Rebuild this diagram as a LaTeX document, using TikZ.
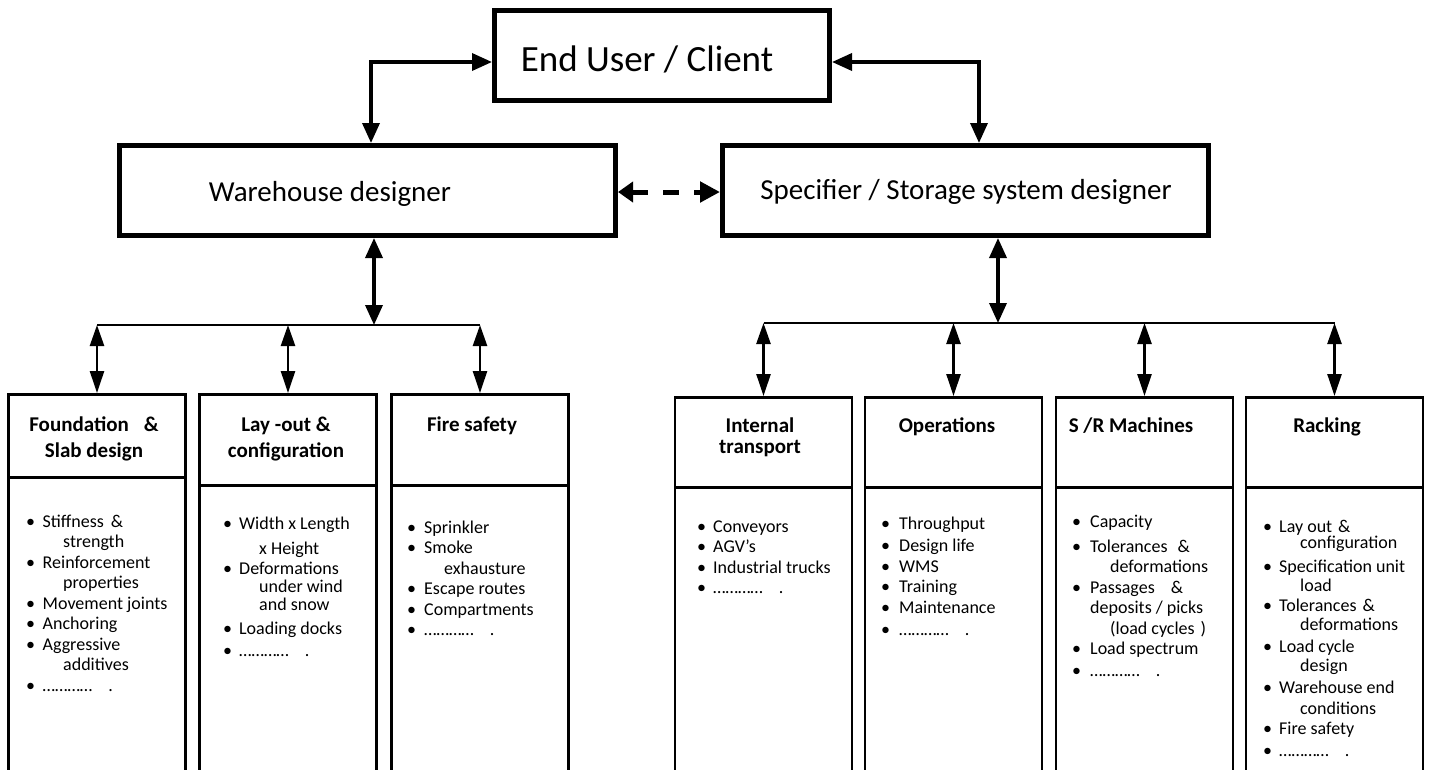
\documentclass[tikz,border=0pt]{standalone}
\usepackage{fontspec}
\setmainfont{Carlito}
\usetikzlibrary{arrows.meta}
\begin{document}
\begin{tikzpicture}[x=1pt,y=-1pt,
 topbox/.style={draw, line width=5pt, inner sep=0pt},
 colhdr/.style={draw, line width=2.5pt, inner sep=0pt, minimum width=177pt},
 colbody/.style={inner sep=0pt, outer sep=0pt, minimum width=177pt},
 colside/.style={line width=2.5pt},
 link/.style={line width=3.5pt, {Triangle[length=20pt,width=17pt]}-{Triangle[length=20pt,width=17pt]}},
 sublink/.style={line width=2.5pt, {Triangle[length=21pt,width=14pt]}-{Triangle[length=22pt,width=14pt]}},
 dlink/.style={line width=5pt, dash pattern=on 16pt off 15pt, {Triangle[length=15pt,width=20pt]}-{Triangle[length=20pt,width=20pt]}},
 busline/.style={line width=2pt},
 bigtxt/.style={font=\fontsize{29}{34}\selectfont, inner sep=0pt, anchor=base},
 ttl/.style={font=\fontsize{21}{26}\selectfont\bfseries, inner sep=0pt, anchor=base},
 ttlr/.style={font=\fontsize{21}{21}\selectfont\bfseries, inner sep=0pt, anchor=base},
 lst/.style={font=\fontsize{18}{20.5}\selectfont, inner sep=0pt, anchor=base west}]
\useasboundingbox (0,0) rectangle (1429,769);
\fill[white] (0,0) rectangle (1429,769);

% top level boxes
\node[topbox, minimum width=335pt, minimum height=90pt] (eu) at (662,55.5) {};
\node[bigtxt, font=\fontsize{37}{44}\selectfont] (eut) at (647,71) {End User / Client};
\node[topbox, minimum width=496pt, minimum height=90pt] (wd) at (367.5,190.5) {};
\node[bigtxt] (wdt) at (330,201) {Warehouse designer};
\node[topbox, minimum width=486pt, minimum height=90pt] (sp) at (965.5,190.5) {};
\node[bigtxt] (spt) at (966,199) {Specifier / Storage system designer};

\draw[link] ([xshift=3.5pt]wd.north) |- ([yshift=-6.5pt]eu.west);
\draw[link] ([yshift=-6.5pt]eu.east) -| ([xshift=13.5pt]sp.north);
\draw[dlink] ([yshift=-1.5pt]wd.east) -- ([yshift=-1.5pt]sp.west);

\coordinate (lbus) at (374,325);
\coordinate (rbus) at (998,323);
\draw[link] ([xshift=6.5pt]wd.south) -- (lbus);
\draw[link] ([xshift=32.5pt]sp.south) -- (rbus);

% column headers
\node[colhdr, minimum height=83pt, anchor=north] (h1) at (97,393) {};
\node[colhdr, minimum height=91pt, anchor=north] (h2) at (288,393) {};
\node[colhdr, minimum height=91pt, anchor=north] (h3) at (480,393) {};
\node[colhdr, minimum height=90pt, anchor=north] (h4) at (763.5,396) {};
\node[colhdr, minimum height=90pt, anchor=north] (h5) at (953.5,396) {};
\node[colhdr, minimum height=90pt, anchor=north] (h6) at (1144.5,396) {};
\node[colhdr, minimum height=90pt, anchor=north] (h7) at (1334.5,396) {};

% column bodies (open at the bottom)
\node[colbody, anchor=north, minimum height=291pt] (b1) at (h1.south) {};
\node[colbody, anchor=north, minimum height=283pt] (b2) at (h2.south) {};
\node[colbody, anchor=north, minimum height=283pt] (b3) at (h3.south) {};
\node[colbody, anchor=north, minimum height=281pt] (b4) at (h4.south) {};
\node[colbody, anchor=north, minimum height=281pt] (b5) at (h5.south) {};
\node[colbody, anchor=north, minimum height=281pt] (b6) at (h6.south) {};
\node[colbody, anchor=north, minimum height=281pt] (b7) at (h7.south) {};
\foreach \b in {b1,b2,b3,b4,b5,b6,b7}
  \draw[colside] (\b.north west) -- (\b.south west) (\b.north east) -- (\b.south east);

% buses and sub links
\draw[busline] (h1.north |- lbus) -- (h3.north |- lbus);
\draw[busline] (h4.north |- rbus) -- (h7.north |- rbus);
\foreach \h in {h1,h2,h3} \draw[sublink] (\h.north |- lbus) -- (\h.north);
\foreach \h in {h4,h5,h6,h7} \draw[sublink] (\h.north |- rbus) -- (\h.north);

% titles
\node[ttl] (t1) at (94,431) {\begin{tabular}[t]{@{}c@{}}Foundation\hspace{15pt}\&\\Slab design\end{tabular}};
\node[ttl] (t2) at (286,431) {\begin{tabular}[t]{@{}c@{}}Lay -out \&\\configuration\end{tabular}};
\node[ttl] (t3) at (472,431) {Fire safety};
\node[ttlr] (t4) at (760,432) {\begin{tabular}[t]{@{}c@{}}Internal\\transport\end{tabular}};
\node[ttlr] (t5) at (947,432) {Operations};
\node[ttlr] (t6) at (1131,432) {S /R Machines};
\node[ttlr] (t7) at (1327,432) {Racking};

% lists
\node[lst] (l1) at (26,527) {\begin{tabular}[t]{@{}p{16.5pt}@{}l@{}}
•&Stiffness\hspace{7pt}\&\\
&\hspace{20.5pt}strength\\
•&Reinforcement\\
&\hspace{20.5pt}properties\\
•&Movement joints\\
•&Anchoring\\
•&Aggressive\\
&\hspace{20.5pt}additives\\
•&…………\hspace{16pt}.
\end{tabular}};

\node[lst] (l2) at (223,529) {\begin{tabular}[t]{@{}p{16pt}@{}l@{}}
•&Width x Length\\[4.5pt]
&\hspace{20pt}x Height\\
•&Deformations\\[-2.5pt]
&\hspace{20pt}under wind\\[-2.5pt]
&\hspace{20pt}and snow\\[3.5pt]
•&Loading docks\\[1.5pt]
•&…………\hspace{16pt}.
\end{tabular}};

\node[lst] (l3) at (407,533) {\begin{tabular}[t]{@{}p{17pt}@{}l@{}}
•&Sprinkler\\
•&Smoke\\
&\hspace{20pt}exhausture\\
•&Escape routes\\
•&Compartments\\
•&…………\hspace{16pt}.
\end{tabular}};

\node[lst] (l4) at (697,532) {\begin{tabular}[t]{@{}p{16pt}@{}l@{}}
•&Conveyors\\
•&AGV’s\\
•&Industrial trucks\\
•&…………\hspace{16pt}.
\end{tabular}};

\node[lst] (l5) at (881,529) {\begin{tabular}[t]{@{}p{18pt}@{}l@{}}
•&Throughput\\[2pt]
•&Design life\\
•&WMS\\
•&Training\\
•&Maintenance\\[1.5pt]
•&…………\hspace{16pt}.
\end{tabular}};

\node[lst] (l6) at (1072,527) {\begin{tabular}[t]{@{}p{18pt}@{}l@{}}
•&Capacity\\[4.5pt]
•&Tolerances\hspace{10pt}\&\\
&\hspace{20pt}deformations\\
•&Passages\hspace{16pt}\&\\
&deposits / picks\\
&\hspace{20pt}(load cycles\hspace{6pt})\\
•&Load spectrum\\[1.5pt]
•&…………\hspace{16pt}.
\end{tabular}};

\node[lst] (l7) at (1263,532) {\begin{tabular}[t]{@{}p{16pt}@{}l@{}}
•&Lay out\hspace{6pt}\&\\[-4.5pt]
&\hspace{21pt}configuration\\[3.5pt]
•&Specification unit\\[-1.5pt]
&\hspace{21pt}load\\
•&Tolerances\hspace{6pt}\&\\[-1.5pt]
&\hspace{21pt}deformations\\[1.5pt]
•&Load cycle\\[-1.5pt]
&\hspace{21pt}design\\[1.5pt]
•&Warehouse end\\
&\hspace{21pt}conditions\\
•&Fire safety\\[1.5pt]
•&…………\hspace{16pt}.
\end{tabular}};
\end{tikzpicture}
\end{document}
